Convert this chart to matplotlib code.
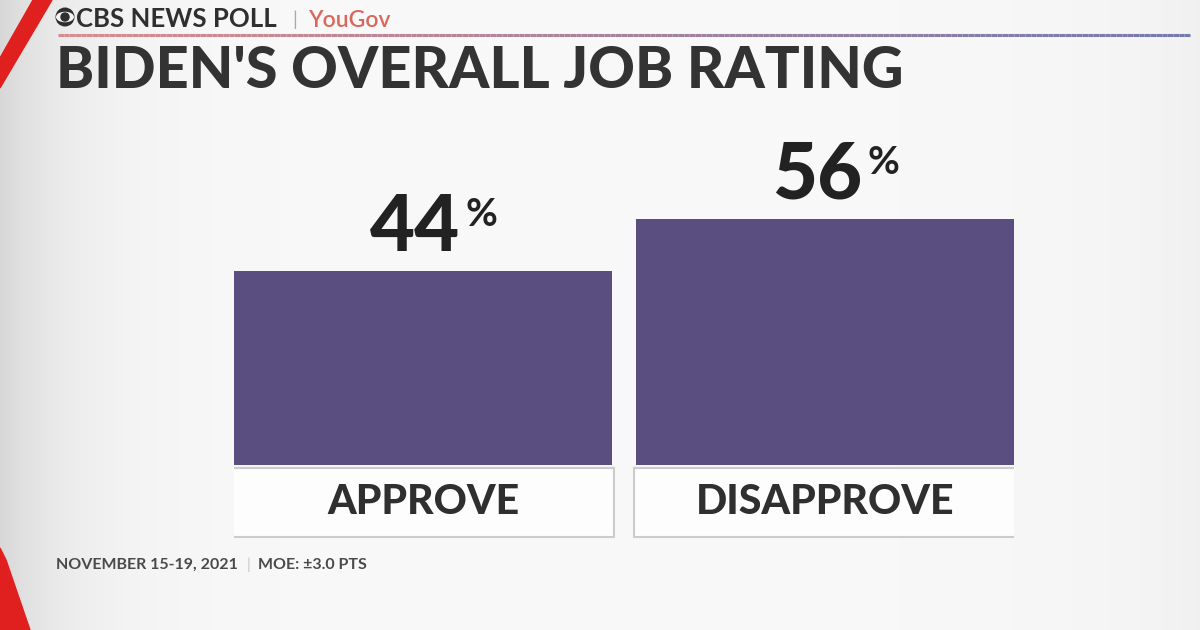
import numpy as np
import matplotlib.pyplot as plt
from matplotlib.patches import Rectangle, Polygon, Circle, Ellipse
from matplotlib.collections import LineCollection

# data
categories = ["APPROVE", "DISAPPROVE"]
values = [44, 56]
title = "BIDEN'S OVERALL JOB RATING"
footnote = "NOVEMBER 15-19, 2021"
moe = "MOE: \u00b13.0 PTS"

bar_color = "#5a4e80"
dark = "#2f2f2f"
font = "Lato"

fig = plt.figure(figsize=(12, 6.3), dpi=100)
fig.patch.set_facecolor("#f7f7f7")

# background / decoration axes in pixel coords
bg = fig.add_axes([0, 0, 1, 1])
bg.set_xlim(0, 1200)
bg.set_ylim(630, 0)
bg.axis("off")
xx = np.linspace(0, 1200, 600)
yy = np.linspace(0, 630, 300)
X, Y = np.meshgrid(xx, yy)
shade = 0.975 - 0.13 * np.exp(-X / 70.0) - 0.03 * np.exp(-(1200 - X) / 120.0)
bg.imshow(np.dstack([shade, shade, shade]), extent=[0, 1200, 630, 0], aspect="auto", zorder=0)

# red ring pieces on the left edge
bg.add_patch(Polygon([[33, 0], [52, 0], [0, 88], [0, 58]], closed=True, color="#e0201f", zorder=1))
bg.add_patch(Polygon([[0, 548], [0, 630], [30, 630], [6, 560]], closed=True, color="#e0201f", zorder=1))

# header line, red to blue
xs = np.linspace(58, 1190, 200)
segs = [[(xs[i], 35), (xs[i + 1], 35)] for i in range(len(xs) - 1)]
cols = [(0.85 + (0.45 - 0.85) * t, 0.55 + (0.48 - 0.55) * t, 0.55 + (0.68 - 0.55) * t) for t in np.linspace(0, 1, len(segs))]
bg.add_collection(LineCollection(segs, colors=cols, linewidths=2.2, zorder=2))

# CBS eye
bg.add_patch(Circle((65, 17), 9.5, facecolor=dark, zorder=3))
bg.add_patch(Ellipse((65, 17), 18, 10.5, facecolor="#f4f4f4", zorder=4))
bg.add_patch(Circle((65, 17), 4.7, facecolor=dark, zorder=5))

bg.text(76, 27, "CBS NEWS POLL", fontsize=18.5, family=font, fontweight="bold",
        color=dark, va="baseline", ha="left", zorder=5)
bg.text(295, 26, "|", fontsize=14, family=font, color="#aaaaaa", va="baseline", ha="center")
bg.text(308, 27, "YouGov", fontsize=16.5, family=font, fontweight="semibold",
        color="#d9685c", va="baseline", ha="left")

bg.text(56, 88, title, fontsize=41.5, family=font, fontweight="black",
        color="#333333", va="baseline", ha="left")

fn = bg.text(56, 569, footnote, fontsize=11.5, family=font, fontweight="bold",
             color="#4a4a4a", va="baseline", ha="left")
sep = bg.annotate("|", xy=(1, 0), xycoords=fn, xytext=(6, 0), textcoords="offset points",
                  fontsize=11, family=font, color="#c4c4c4", va="bottom", ha="left")
bg.annotate(moe, xy=(1, 0), xycoords=sep, xytext=(6, 0), textcoords="offset points",
            fontsize=11.5, family=font, fontweight="bold", color="#4a4a4a",
            va="bottom", ha="left")

# bar axes: y=0 at 465 px, 4.4 px per point
ax = fig.add_axes([234 / 1200, (630 - 539.8) / 630, 780 / 1200, 514.8 / 630])
ax.set_xlim(-0.47, 1.47)
ax.set_ylim(-17, 100)
ax.axis("off")
ax.patch.set_alpha(0)

x = np.arange(len(categories))
ax.bar(x, values, width=0.94, color=bar_color, zorder=2)

for xi, v, cat in zip(x, values, categories):
    ax.add_patch(Rectangle((xi - 0.475, -16.4), 0.95, 15.7, facecolor="#fdfdfd",
                           edgecolor="#cccccc", linewidth=1.5, zorder=2))
    ax.text(xi, -8.3, cat, fontsize=29.5, family=font, fontweight="black",
            color=dark, ha="center", va="center", zorder=3)
    t = ax.text(xi - 0.02, v + 4.6, str(v), fontsize=56, family=font, fontweight="black",
                color="#222222", ha="center", va="baseline", zorder=3)
    ax.annotate("%", xy=(1, 1), xycoords=t, xytext=(4, -3), textcoords="offset points",
                fontsize=28, family=font, fontweight="bold", color="#222222",
                ha="left", va="top")

fig.savefig("out.png", dpi=100)
